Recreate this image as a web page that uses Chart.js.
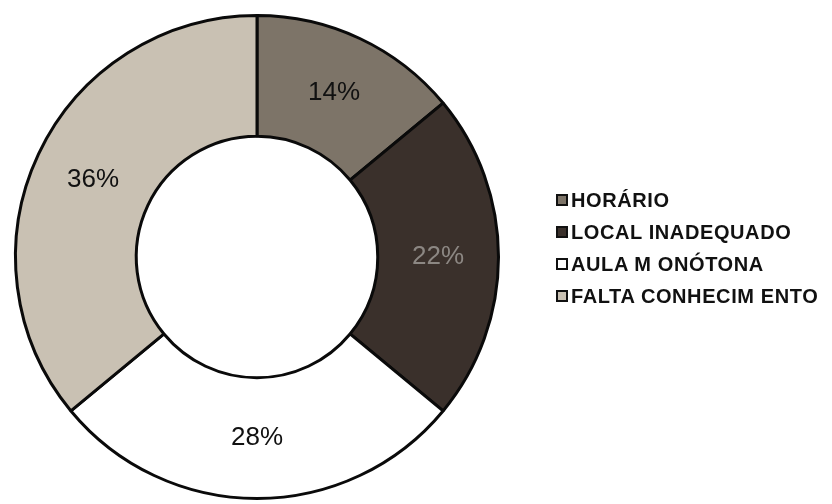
<!DOCTYPE html>
<html>
<head>
<meta charset="utf-8">
<script src="https://cdn.jsdelivr.net/npm/chart.js@4"></script>
<style>
  html, body { margin: 0; padding: 0; background: #fff; }
  #wrap { position: relative; width: 832px; height: 504px; }
  #legend { position: absolute; left: 556px; top: 184px; font-family: "Liberation Sans", Arial, sans-serif;
    font-weight: bold; font-size: 20px; letter-spacing: 0.6px; color: #111; white-space: nowrap; }
  .item { display: flex; align-items: center; height: 32px; line-height: 20px; }
  .box { width: 8px; height: 8px; border: 2px solid #111; margin-right: 3px; flex: none; }
</style>
</head>
<body>
<div id="wrap">
  <canvas id="chart" width="832" height="504"></canvas>
  <div id="legend"></div>
</div>
<script>
const categories = ['HORÁRIO', 'LOCAL INADEQUADO', 'AULA MONÓTONA', 'FALTA CONHECIMENTO']
const legendLabels = ['HORÁRIO', 'LOCAL INADEQUADO', 'AULA M ONÓTONA', 'FALTA CONHECIM ENTO']
const percentages = [14, 22, 28, 36]
const sliceColors = ['#7d7468', '#3a302b', '#ffffff', '#c9c1b3']

const percentLabels = {
  id: 'percentLabels',
  afterDatasetsDraw(chart) {
    const ctx = chart.ctx
    const meta = chart.getDatasetMeta(0)
    ctx.save()
    ctx.font = '26px "Liberation Sans", Arial, sans-serif'
    ctx.textAlign = 'center'
    ctx.textBaseline = 'middle'
    meta.data.forEach((arc, i) => {
      const pos = arc.tooltipPosition()
      // the dark slice has its label in a faded grey
      ctx.fillStyle = i === 1 ? '#8c8783' : '#111'
      ctx.fillText(percentages[i] + '%', pos.x, pos.y)
    })
    ctx.restore()
  }
}

new Chart(document.getElementById('chart'), {
  type: 'doughnut',
  data: {
    labels: categories,
    datasets: [{
      data: percentages,
      backgroundColor: sliceColors,
      borderColor: '#0a0a0a',
      borderWidth: 3
    }]
  },
  options: {
    responsive: false,
    animation: false,
    cutout: '50%',
    layout: { padding: { left: 14, right: 332, top: 14, bottom: 4 } },
    plugins: {
      legend: { display: false },
      tooltip: { enabled: false }
    }
  },
  plugins: [percentLabels]
})

const legend = document.getElementById('legend')
legendLabels.forEach((label, i) => {
  const item = document.createElement('div')
  item.className = 'item'
  const box = document.createElement('span')
  box.className = 'box'
  box.style.background = sliceColors[i]
  item.appendChild(box)
  item.appendChild(document.createTextNode(label))
  legend.appendChild(item)
})
</script>
</body>
</html>
